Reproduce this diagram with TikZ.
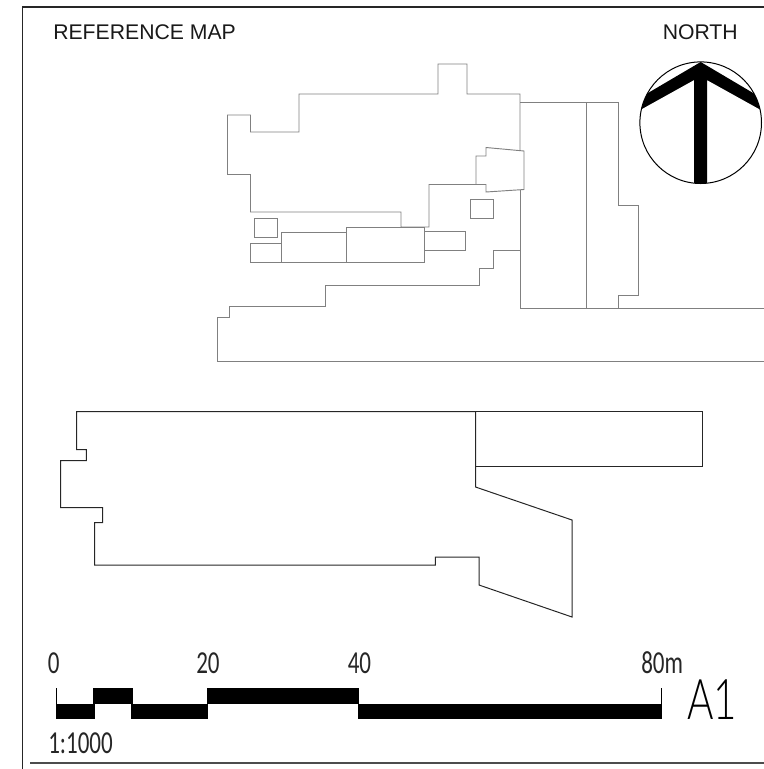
\documentclass[tikz,border=0pt]{standalone}
\usepackage{fontspec}
\setmainfont{Liberation Sans}
\newfontfamily\condfont[FakeStretch=0.72]{Carlito}
\newfontfamily\bigfont[FakeStretch=0.72]{Lato Light}
\begin{document}
\begin{tikzpicture}[x=0.75pt,y=-0.75pt,
  framel/.style={draw=black!85,line width=0.85pt},
  planl/.style={draw=black!50,line width=0.7pt,line join=miter},
  bldl/.style={draw=black!85,line width=0.75pt,line join=miter},
  bar/.style={fill=black,draw=none},
  lab/.style={inner sep=0pt,anchor=base west,font=\fontsize{15.9pt}{18pt}\selectfont,text=black!90},
  slab/.style={inner sep=0pt,anchor=base west,font=\condfont\fontsize{24pt}{26pt}\selectfont,text=black!85},
  bigl/.style={inner sep=0pt,anchor=base west,font=\bigfont\fontsize{42pt}{46pt}\selectfont,text=black}]
\useasboundingbox (0,0) rectangle (764,769);
% frame
\draw[framel] (22.7,769) -- (22.7,7) -- (764,7);
\draw[framel,draw=black!70] (30,763) -- (764,763);
% labels
\node[lab] (refmap) at (53,39) {REFERENCE MAP};
\node[lab] (north) at (662.5,39) {NORTH};
% upper plan
\draw[planl] (520,151) -- (520,94) -- (467,94) -- (467,64) -- (438,64) -- (438,94) -- (299,94) -- (299,132) -- (250.5,132) -- (250.5,115) -- (227.5,115) -- (227.5,174.5) -- (250.5,174.5) -- (250.5,212) -- (401,212) -- (401,227) -- (429,227) -- (429,184.5) -- (486,184.5) -- (486,192) -- (524,189.5) -- (524,151) -- (486,147.5) -- (486,156) -- (476,156) -- (476,184.5);
\draw[planl] (254,218.5) rectangle (277.5,237.5);
\draw[planl] (250.5,243.5) rectangle (281.5,262);
\draw[planl] (281.5,232.5) rectangle (346,262);
\draw[planl] (346,227) rectangle (424,262);
\draw[planl] (424,231.5) rectangle (465.5,250.5);
\draw[planl] (470.5,199.5) rectangle (493.5,218.5);
\draw[planl] (520,250) -- (493.5,250) -- (493.5,268.5) -- (479,268.5) -- (479,285) -- (325.5,285) -- (325.5,306) -- (229,306) -- (229,317) -- (217.5,317) -- (217.5,361.5) -- (764,361.5);
\draw[planl] (520,189.5) -- (520,308.5) -- (764,308.5);
\draw[planl] (520,102.5) -- (618.5,102.5) -- (618.5,205) -- (638.5,205) -- (638.5,295.5) -- (618.5,295.5) -- (618.5,308.5);
\draw[planl] (586,102.5) -- (586,308.5);
% compass
\begin{scope}
\clip (700.7,122.7) circle[radius=60.8];
\fill[black] (700.7,62) -- (770,103) -- (770,115) -- (707,80) -- (707,184) -- (694,184) -- (694,80) -- (631,115) -- (631,103) -- cycle;
\end{scope}
\draw[black,line width=0.75pt] (700.7,122.7) circle[radius=60.8];
% lower building
\draw[bldl] (475.5,411.5) -- (702.5,411.5) -- (702.5,466) -- (475.5,466);
\draw[bldl] (475.5,411.5) -- (475.5,487) -- (572,520) -- (572,617) -- (479,585) -- (479,557) -- (435.3,557) -- (435.3,565) -- (94.7,565) -- (94.7,522.7) -- (102.7,522.7) -- (102.7,507.5) -- (60.7,507.5) -- (60.7,460.7) -- (86.3,460.7) -- (86.3,449.5) -- (76.5,449.5) -- (76.5,411.5) -- cycle;
% scale bar
\fill[bar] (55.7,703.5) rectangle (94.5,719);
\fill[bar] (93.3,688) rectangle (132.7,703.7);
\fill[bar] (131,703.5) rectangle (208,719);
\fill[bar] (207,688) rectangle (359.3,703.7);
\fill[bar] (358,703.5) rectangle (661.8,719);
\draw[black,line width=0.6pt] (56.2,688) -- (56.2,704);
\draw[black,line width=0.6pt] (661,688) -- (661,704);
\node[slab] (s0) at (47.5,673.5) {0};
\node[slab] (s20) at (196,673.5) {20};
\node[slab] (s40) at (347.5,673.5) {40};
\node[slab] (s80) at (641,673.5) {80m};
\node[slab] (ratio) at (48,753) {1:1000};
\node[bigl] (a1) at (687,719) {A1};
\end{tikzpicture}
\end{document}
